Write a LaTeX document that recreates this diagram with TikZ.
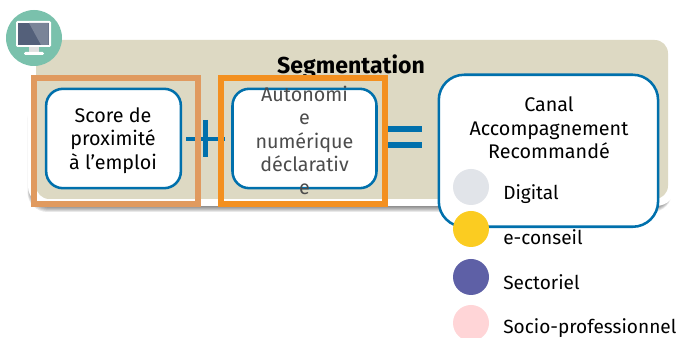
\documentclass[tikz,border=0pt]{standalone}
\usepackage{fontspec}
\setmainfont{Fira Sans}
\usetikzlibrary{positioning}
\definecolor{beige}{HTML}{DDD9C3}
\definecolor{bleu}{HTML}{0070AC}
\definecolor{orangeclair}{HTML}{E09A5F}
\definecolor{orangevif}{HTML}{F39020}
\definecolor{vertcanal}{HTML}{7AC1AC}
\definecolor{ecran}{HTML}{54607A}
\definecolor{ecranclair}{HTML}{7A8498}
\definecolor{digital}{HTML}{E1E4E9}
\definecolor{econseil}{HTML}{FBCC21}
\definecolor{sectoriel}{HTML}{5E60A6}
\definecolor{socio}{HTML}{FFD5D7}
\tikzset{
    critere/.style={draw=bleu, line width=1.9pt, fill=white, rounded corners=12.5pt, minimum width=101pt, minimum height=74.5pt, inner sep=0pt},
    texte/.style={align=center, inner sep=0pt, font=\fontsize{14.8}{17.5}\selectfont},
    cadre/.style={line width=4.5pt},
    signe/.style={draw=bleu, line width=4.5pt},
    pastille/.style={circle, inner sep=0pt, minimum size=27pt},
    legende/.style={anchor=base west, inner sep=0pt, font=\fontsize{14.3}{17}\selectfont},
}
\begin{document}
\begin{tikzpicture}[x=0.75pt,y=-0.75pt]
    \useasboundingbox (0,0) rectangle (676,338);
    \clip (0,0) rectangle (676,338);

    % fond
    \foreach \d in {1,2,...,7}
        \fill[black, opacity=0.09, rounded corners=15pt] (31-\d/2,100) rectangle (672,205+\d);
    \fill[white, rounded corners=15pt] (28,32) rectangle (676,206);
    \fill[beige, rounded corners=10pt] (36,40) rectangle (668,199);
    \node[font=\fontsize{17.3}{20}\selectfont\bfseries] (titre) at (351,67) {Segmentation};

    % signes
    \draw[signe, line width=3pt] (186,139) -- (225,139);
    \draw[signe, line width=3.8pt] (205.5,120) -- (205.5,157);
    \draw[signe] (382,129) -- (422,129);
    \draw[signe] (382,145) -- (422,145);

    % cadres
    \draw[cadre, orangeclair] (33.5,78.5) rectangle (197.5,204);
    \draw[cadre, orangevif] (220.5,78.5) rectangle (384.5,204);

    % criteres
    \node[critere] (score) at (113.5,138.5) {};
    \node[texte] (scoretexte) at (113,140.5) {Score de\\proximité\\à l’emploi};
    \node[critere, minimum width=108pt] (autonomie) at (304.5,138.5) {};
    \node[texte, text=black!70] (autonomietexte) at (304.5,140.5) {Autonomi\\e\\numérique\\déclarativ\\e};

    % canal
    \node[critere, minimum width=164.5pt, minimum height=114pt, rounded corners=19pt, anchor=north west] (canal) at (437.5,73.5) {};
    \node[texte] (canaltexte) at (549,128) {Canal\\Accompagnement\\Recommandé};

    % legende
    \node[pastille, fill=digital] (p1) at (471,187) {};
    \node[pastille, fill=econseil] (p2) at (471,229) {};
    \node[pastille, fill=sectoriel] (p3) at (471,277) {};
    \node[pastille, fill=socio] (p4) at (471,323) {};
    \node[legende] (l1) at (503,200) {Digital};
    \node[legende] (l2) at (503,245) {e-conseil};
    \node[legende] (l3) at (503,290) {Sectoriel};
    \node[legende] (l4) at (503,334) {Socio-professionnel};

    % icone
    \node[circle, fill=vertcanal, inner sep=0pt, minimum size=42pt] (icone) at (34,38) {};
    \fill[white, rounded corners=1pt] (16,21) rectangle (51,47);
    \fill[ecran] (18,23) rectangle (48.5,45);
    \fill[ecranclair] (29,23) -- (48.5,23) -- (48.5,45) -- (41,45) -- cycle;
    \fill[white!88!black] (29,47) rectangle (39,52);
    \fill[white, rounded corners=1pt] (24,52) rectangle (44,55);
\end{tikzpicture}
\end{document}
